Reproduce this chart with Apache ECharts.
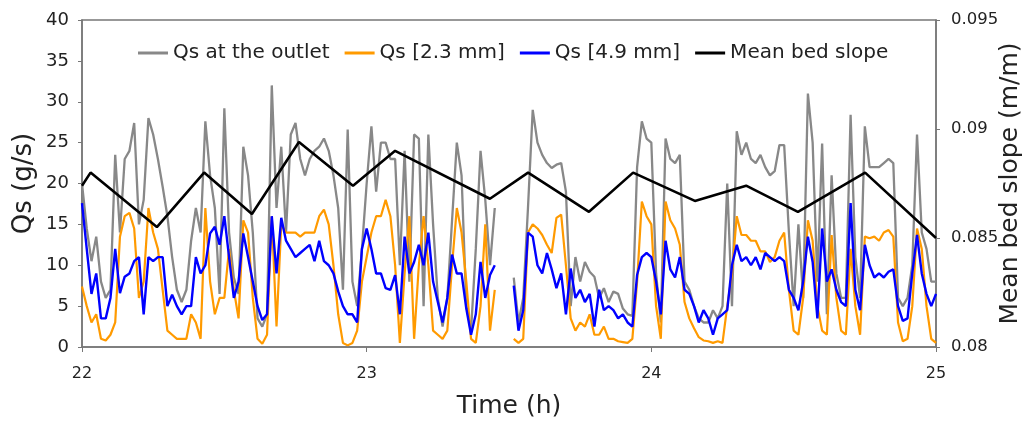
<!DOCTYPE html>
<html>
<head>
<meta charset="utf-8">
<script src="https://cdn.jsdelivr.net/npm/echarts@6/dist/echarts.min.js"></script>
<style>
html,body{margin:0;padding:0;background:#fff;overflow:hidden;}
#chart{width:1026px;height:422px;}
</style>
</head>
<body>
<div id="chart"></div>
<script>
// Sampling: one value per minute starting at 22:00 h
const startHour = 22;
const minutesPerSample = 1;

// Qs at the outlet (g/s)
const qsOutlet = [
 20, 14.5, 10.5, 13.5, 8, 6, 7, 23.5, 14, 23,
 24, 27.4, 15, 18, 28, 26, 23, 19.6, 16, 11,
 7, 5.5, 7, 13, 17, 14, 27.6, 21, 17, 6.5,
 29.2, 14, 8.5, 6.5, 24.5, 21, 14, 3.5, 2.5, 4,
 32, 17, 24.5, 14, 26, 27.4, 23, 21, 23, 24,
 24.5, 25.5, 24, 21, 17, 7, 26.6, 8, 5, 12,
 20, 27, 19, 25, 25, 23, 23, 10, 24, 8,
 26, 25.5, 5, 26, 15, 6, 2.5, 6, 15.5, 25,
 21, 5, 2, 12, 24, 18, 10, 17, null, null,
 null, 8.5, 3, 6, 17, 29, 25, 23.5, 22.5, 21.9,
 22.3, 22.5, 19, 5, 11, 8, 10.4, 9.2, 8.6, 6,
 7.2, 5.5, 6.8, 6.5, 4.7, 4, 3.8, 22, 27.6, 25.5,
 25, 9, 3, 25.5, 23, 22.5, 23.5, 8, 7, 5,
 3.5, 3, 3, 4.5, 3.5, 5, 20, 5, 26.4, 23.5,
 25, 23, 22.5, 23.5, 22, 21, 21.5, 24.7, 24.7, 14,
 5, 15, 6, 31, 25, 8, 24.9, 4, 21, 9,
 6, 6, 28.4, 11, 6, 27, 22, 22, 22, 22.5,
 23, 22.5, 6, 5, 6, 10, 26, 14, 12, 8, 8
];

// Qs [2.3 mm] (g/s)
const qsFine = [
 7.4, 5, 3, 4, 1, 0.8, 1.5, 3, 13.5, 16,
 16.4, 14.5, 6, 8, 17, 14, 12, 7, 2, 1.5,
 1, 1, 1, 4, 3, 1, 17, 8, 4, 6,
 6, 12, 7, 3.5, 15.5, 14, 6, 1, 0.4, 1.5,
 16, 2.5, 15, 14, 14, 14, 13.5, 14, 14, 14,
 16, 16.8, 15, 10, 4, 0.5, 0.2, 0.5, 2, 8,
 11, 14, 16, 16, 18, 16, 10, 0.5, 9, 16,
 1, 10, 16, 10, 2, 1.5, 1, 2, 10, 17,
 14, 8, 1, 0.5, 5, 15, 2, 7, null, null,
 null, 1, 0.5, 1, 14, 15, 14.5, 13.7, 12.5, 11.5,
 15.8, 16.2, 10, 3.5, 2, 3, 2.5, 4, 1.5, 1.5,
 2.5, 1, 1, 0.7, 0.6, 0.5, 1, 8, 17.8, 16,
 15, 5, 1, 17.8, 15.5, 14.5, 12.5, 5.5, 3.5, 2.3,
 1.2, 0.8, 0.7, 0.5, 0.7, 0.5, 5, 9, 16, 13.7,
 13.7, 13, 13, 11.7, 11.7, 10.4, 11, 13, 14, 7,
 2, 1.5, 6, 15.5, 13, 5, 2, 1.5, 13.7, 6,
 2, 1.5, 12, 5, 1.5, 13.5, 13.3, 13.5, 13, 14,
 14.3, 13.5, 3, 0.7, 1, 5, 14.5, 12, 5, 1, 0.5
];

// Qs [4.9 mm] (g/s)
const qsCoarse = [
 17.6, 12, 6.5, 9, 3.5, 3.5, 6, 12, 6.6, 8.6,
 9, 10.5, 11, 4, 11, 10.5, 11, 11, 5, 6.4,
 5, 4, 5, 5, 11, 9, 10, 13.9, 14.7, 12.5,
 16, 11, 6, 8, 13.9, 11, 8, 5, 3.3, 4,
 16, 9, 15.8, 13, 12, 11, 11.5, 12, 12.5, 10.5,
 13, 10.5, 10, 9, 6.8, 5, 4, 4, 3, 12,
 14.5, 12, 9, 9, 7.2, 7, 8.8, 4, 13.5, 9,
 10.4, 12.5, 10, 14, 8, 5.5, 3, 6, 11.3, 9,
 9, 4.7, 1.5, 4, 10.4, 6, 8.8, 10, null, null,
 null, 7.5, 2, 4.5, 14, 13.5, 10, 9, 11.5, 9.5,
 7.2, 9, 4, 9.6, 6, 7, 5.5, 6.5, 2.5, 7,
 4.5, 5, 4.5, 3.5, 4, 3, 2.5, 8.8, 11, 11.5,
 11, 8, 4, 13, 9.5, 8.5, 11, 7, 6.5, 5,
 3, 4.5, 3.5, 1.5, 3.5, 4, 4.5, 10, 12.5, 10.5,
 11, 10, 11, 9.5, 11.5, 11, 10.5, 11, 10.5, 7,
 6, 4.5, 8, 13.5, 10.4, 3.5, 14.5, 8, 9.5, 7,
 5.5, 5, 17.6, 7, 4.5, 12.5, 10, 8.5, 9, 8.5,
 9.2, 9.5, 5, 3.2, 3.5, 9, 13.7, 9, 6.5, 5, 6.5
];

// Mean bed slope (m/m)
const slopeTime  = [22.000, 22.030, 22.263, 22.429, 22.597, 22.762, 22.952, 23.100, 23.433, 23.567, 23.781, 23.936, 24.153, 24.333, 24.515, 24.751, 25.000];
const slopeValue = [0.0874, 0.0880, 0.0855, 0.0880, 0.0861, 0.0894, 0.0874, 0.0890, 0.0868, 0.0880, 0.0862, 0.0880, 0.0867, 0.0874, 0.0862, 0.0880, 0.0850];

const seriesNames = ['Qs at the outlet', 'Qs [2.3 mm]', 'Qs [4.9 mm]', 'Mean bed slope'];

const toTimeSeries = arr => arr.map((v, i) => [startHour + i * minutesPerSample / 60, v]);
const slopeData = slopeTime.map((t, i) => [t, slopeValue[i]]);

const FONT = 'DejaVu Sans';
const chart = echarts.init(document.getElementById('chart'), null, {renderer: 'canvas'});
chart.setOption({
  animation: false,
  backgroundColor: '#fff',
  textStyle: {fontFamily: FONT},
  grid: {left: 82, right: 90, top: 20, bottom: 75, containLabel: false, outerBoundsMode: 'none',
         show: true, borderColor: '#777', borderWidth: 1.5, backgroundColor: 'transparent'},
  legend: {
    data: seriesNames,
    left: 138, top: 43, padding: 0,
    icon: 'rect', itemWidth: 30, itemHeight: 3, itemGap: 15,
    textStyle: {fontFamily: FONT, fontSize: 20, color: '#222'}
  },
  xAxis: {
    type: 'value', min: 22, max: 25, interval: 1,
    name: 'Time (h)', nameLocation: 'middle', nameGap: 47, nameMoveOverlap: false,
    nameTextStyle: {fontFamily: FONT, fontSize: 25, color: '#222'},
    axisLine: {lineStyle: {color: '#777', width: 1.5}},
    axisTick: {length: 5, lineStyle: {color: '#777'}},
    axisLabel: {fontFamily: FONT, fontSize: 16, color: '#222', margin: 19},
    splitLine: {show: false}
  },
  yAxis: [{
    type: 'value', min: 0, max: 40, interval: 5, position: 'left',
    name: 'Qs (g/s)', nameLocation: 'middle', nameGap: 45, nameRotate: 90,
    nameMoveOverlap: false,
    nameTextStyle: {fontFamily: FONT, fontSize: 26, color: '#222'},
    axisLine: {show: true, lineStyle: {color: '#777', width: 1.5}},
    axisTick: {show: true, length: 4, lineStyle: {color: '#777'}},
    axisLabel: {fontFamily: FONT, fontSize: 18, color: '#222', margin: 13},
    splitLine: {show: false}
  }, {
    type: 'value', min: 0.08, max: 0.095, interval: 0.005, position: 'right',
    name: 'Mean bed slope (m/m)', nameLocation: 'middle', nameGap: 62, nameRotate: 90,
    nameMoveOverlap: false,
    nameTextStyle: {fontFamily: FONT, fontSize: 25, color: '#222'},
    axisLine: {show: true, lineStyle: {color: '#777', width: 1.5}},
    axisTick: {show: true, length: 4, lineStyle: {color: '#777'}},
    axisLabel: {fontFamily: FONT, fontSize: 16.5, color: '#222', margin: 15,
      formatter: v => String(parseFloat(v.toFixed(3)))},
    splitLine: {show: false}
  }],
  series: [{
    name: seriesNames[0], type: 'line', data: toTimeSeries(qsOutlet), yAxisIndex: 0,
    showSymbol: false, symbol: 'none', connectNulls: false,
    lineStyle: {color: '#888888', width: 2.3}, itemStyle: {color: '#888888'}, z: 1
  }, {
    name: seriesNames[1], type: 'line', data: toTimeSeries(qsFine), yAxisIndex: 0,
    showSymbol: false, symbol: 'none', connectNulls: false,
    lineStyle: {color: '#FF9A00', width: 2.2}, itemStyle: {color: '#FF9A00'}, z: 2
  }, {
    name: seriesNames[2], type: 'line', data: toTimeSeries(qsCoarse), yAxisIndex: 0,
    showSymbol: false, symbol: 'none', connectNulls: false,
    lineStyle: {color: '#0000FF', width: 2.4}, itemStyle: {color: '#0000FF'}, z: 3
  }, {
    name: seriesNames[3], type: 'line', data: slopeData, yAxisIndex: 1,
    showSymbol: false, symbol: 'none',
    lineStyle: {color: '#000000', width: 2.6}, itemStyle: {color: '#000000'}, z: 4
  }]
});
</script>
</body>
</html>
